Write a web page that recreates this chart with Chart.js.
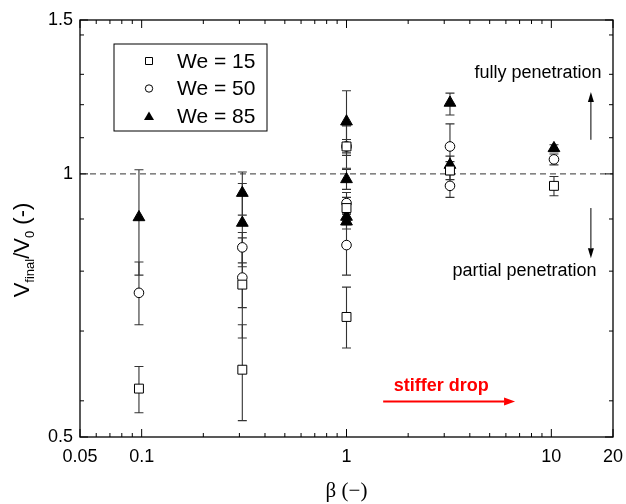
<!DOCTYPE html>
<html>
<head>
<meta charset="UTF-8">
<title>V_final/V_0 vs beta</title>
<script src="https://cdn.jsdelivr.net/npm/chart.js"></script>
<style>
  html, body { margin: 0; padding: 0; background: #fff; }
</style>
</head>
<body>
<canvas id="myChart" width="626" height="504"></canvas>
<script>
  // --- data ---
  // We = 15 (open squares)
  const we15Beta = [0.097, 0.31, 0.31, 1.0, 1.0, 1.0, 3.2, 10.3];
  const we15V    = [0.568, 0.747, 0.597, 1.075, 0.914, 0.686, 1.009, 0.969];
  const we15Lo   = [0.533, 0.649, 0.522, 1.057, 0.890, 0.632, 0.985, 0.944];
  const we15Hi   = [0.602, 0.845, 0.672, 1.095, 0.940, 0.742, 1.033, 0.993];

  // We = 50 (open circles)
  const we50Beta = [0.097, 0.31, 0.31, 1.0, 1.0, 1.0, 3.2, 3.2, 10.3];
  const we50V    = [0.731, 0.824, 0.761, 1.075, 0.926, 0.829, 1.075, 0.969, 1.039];
  const we50Lo   = [0.672, 0.791, 0.703, 1.015, 0.900, 0.766, 1.009, 0.940, 1.024];
  const we50Hi   = [0.793, 0.857, 0.819, 1.135, 0.952, 0.892, 1.141, 0.998, 1.054];

  // We = 85 (filled triangles)
  const we85Beta = [0.097, 0.31, 0.31, 1.0, 1.0, 1.0, 1.0, 3.2, 3.2, 10.3];
  const we85V    = [0.892, 0.951, 0.879, 1.148, 0.986, 0.893, 0.882, 1.206, 1.024, 1.070];
  const we85Lo   = [0.766, 0.897, 0.783, 1.050, 0.960, 0.875, 0.865, 1.168, 1.000, 1.060];
  const we85Hi   = [1.011, 1.005, 0.975, 1.245, 1.012, 0.911, 0.899, 1.237, 1.048, 1.080];

  const legendLabels = ['We = 15', 'We = 50', 'We = 85'];

  // axis ticks
  const xMajor = [0.05, 0.1, 1, 10, 20];
  const xMinor = [0.06, 0.07, 0.08, 0.09, 0.2, 0.3, 0.4, 0.5, 0.6, 0.7, 0.8, 0.9,
                  2, 3, 4, 5, 6, 7, 8, 9];
  const yMajor = [0.5, 1, 1.5];
  const yMinor = [0.55, 0.661, 0.774, 0.888, 1.1, 1.2, 1.3, 1.442];

  function pts(b, v, lo, hi) {
    return b.map((x, i) => ({ x: x, y: v[i], lo: lo[i], hi: hi[i] }));
  }

  const SANS = "'Liberation Sans', Arial, sans-serif";

  // frame, inward ticks, dashed reference line, y title, annotations, legend
  const decor = {
    id: 'decor',
    beforeDatasetsDraw(chart) {
      const ctx = chart.ctx;
      const xs = chart.scales.x, ys = chart.scales.y;
      // dashed line at 1
      const y1 = ys.getPixelForValue(1);
      ctx.save();
      ctx.strokeStyle = '#333';
      ctx.lineWidth = 1;
      ctx.setLineDash([6, 4]);
      ctx.beginPath();
      ctx.moveTo(chart.chartArea.left, y1);
      ctx.lineTo(chart.chartArea.right, y1);
      ctx.stroke();
      ctx.restore();

      // error bars
      ctx.save();
      ctx.strokeStyle = '#333';
      ctx.lineWidth = 1.1;
      chart.data.datasets.forEach(ds => {
        ds.data.forEach(p => {
          const px = xs.getPixelForValue(p.x);
          const pLo = ys.getPixelForValue(p.lo);
          const pHi = ys.getPixelForValue(p.hi);
          ctx.beginPath();
          ctx.moveTo(px, pLo); ctx.lineTo(px, pHi);
          ctx.moveTo(px - 4.5, pLo); ctx.lineTo(px + 4.5, pLo);
          ctx.moveTo(px - 4.5, pHi); ctx.lineTo(px + 4.5, pHi);
          ctx.stroke();
        });
      });
      ctx.restore();
    },
    afterDraw(chart) {
      const ctx = chart.ctx;
      const a = chart.chartArea;
      const xs = chart.scales.x, ys = chart.scales.y;
      ctx.save();
      ctx.strokeStyle = '#000';
      ctx.lineWidth = 1.3;
      ctx.strokeRect(a.left, a.top, a.right - a.left, a.bottom - a.top);

      ctx.lineWidth = 1;
      ctx.beginPath();
      const tickX = (v, len) => {
        const px = xs.getPixelForValue(v);
        ctx.moveTo(px, a.bottom); ctx.lineTo(px, a.bottom - len);
        ctx.moveTo(px, a.top); ctx.lineTo(px, a.top + len);
      };
      const tickY = (v, len) => {
        const py = ys.getPixelForValue(v);
        ctx.moveTo(a.left, py); ctx.lineTo(a.left + len, py);
        ctx.moveTo(a.right, py); ctx.lineTo(a.right - len, py);
      };
      xMajor.forEach(v => tickX(v, 8));
      xMinor.forEach(v => tickX(v, 4));
      yMajor.forEach(v => tickY(v, 8));
      yMinor.forEach(v => tickY(v, 4));
      ctx.stroke();

      // y axis title with subscripts
      ctx.translate(29, 250);
      ctx.rotate(-Math.PI / 2);
      const parts = [
        ['V', 22, 0], ['final', 13, 5], ['/V', 22, 0], ['0', 13, 5], [' (-)', 22, 0]
      ];
      let total = 0;
      parts.forEach(p => { ctx.font = p[1] + 'px ' + SANS; total += ctx.measureText(p[0]).width; });
      let cx = -total / 2;
      ctx.fillStyle = '#000';
      ctx.textBaseline = 'alphabetic';
      ctx.textAlign = 'left';
      parts.forEach(p => {
        ctx.font = p[1] + 'px ' + SANS;
        ctx.fillText(p[0], cx, p[2]);
        cx += ctx.measureText(p[0]).width;
      });
      ctx.setTransform(1, 0, 0, 1, 0, 0);

      // annotations
      const X = v => xs.getPixelForValue(v);
      const Y = v => ys.getPixelForValue(v);
      const arrow = (x0, y0, x1, y1, hl, hw, lw, col) => {
        const ang = Math.atan2(y1 - y0, x1 - x0);
        ctx.strokeStyle = col; ctx.fillStyle = col; ctx.lineWidth = lw;
        ctx.beginPath();
        ctx.moveTo(x0, y0);
        ctx.lineTo(x1 - hl * Math.cos(ang), y1 - hl * Math.sin(ang));
        ctx.stroke();
        ctx.beginPath();
        ctx.moveTo(x1, y1);
        ctx.lineTo(x1 - hl * Math.cos(ang) + hw * Math.sin(ang), y1 - hl * Math.sin(ang) - hw * Math.cos(ang));
        ctx.lineTo(x1 - hl * Math.cos(ang) - hw * Math.sin(ang), y1 - hl * Math.sin(ang) + hw * Math.cos(ang));
        ctx.closePath();
        ctx.fill();
      };
      ctx.textAlign = 'center';
      ctx.textBaseline = 'middle';
      ctx.fillStyle = '#000';
      ctx.font = '18px ' + SANS;
      ctx.fillText('fully penetration', X(8.6), Y(1.305));
      ctx.fillText('partial penetration', X(7.4), Y(0.774));
      arrow(X(15.6), Y(1.094), X(15.6), Y(1.241), 10, 3, 1, '#000');
      arrow(X(15.6), Y(0.914), X(15.6), Y(0.801), 10, 3, 1, '#000');

      ctx.fillStyle = '#ff0000';
      ctx.font = 'bold 18px ' + SANS;
      ctx.fillText('stiffer drop', X(2.9), Y(0.572));
      arrow(X(1.51), Y(0.549), X(6.65), Y(0.549), 11, 4, 2.2, '#ff0000');

      // legend box
      const lx = a.left + 34, ly = a.top + 24, lw = 153, lh = 87;
      ctx.strokeStyle = '#000';
      ctx.lineWidth = 1;
      ctx.strokeRect(lx, ly, lw, lh);
      ctx.textAlign = 'left';
      ctx.fillStyle = '#000';
      ctx.font = '21px ' + SANS;
      chart.data.datasets.forEach((ds, i) => {
        const ry = ly + 17 + i * 27.5;
        const mx = lx + 35;
        ctx.beginPath();
        if (ds.pointStyle === 'rect') {
          ctx.fillStyle = '#fff';
          ctx.rect(mx - 3.5, ry - 3.5, 7, 7);
          ctx.fill(); ctx.stroke();
        } else if (ds.pointStyle === 'circle') {
          ctx.fillStyle = '#fff';
          ctx.arc(mx, ry, 3.7, 0, Math.PI * 2);
          ctx.fill(); ctx.stroke();
        } else {
          ctx.fillStyle = '#000';
          ctx.moveTo(mx, ry - 4.5);
          ctx.lineTo(mx + 5, ry + 4);
          ctx.lineTo(mx - 5, ry + 4);
          ctx.closePath();
          ctx.fill();
        }
        ctx.fillStyle = '#000';
        ctx.fillText(legendLabels[i], lx + 63, ry + 1);
      });
      ctx.restore();
    }
  };

  const ctx = document.getElementById('myChart').getContext('2d');
  new Chart(ctx, {
    type: 'scatter',
    data: {
      datasets: [
        {
          label: legendLabels[0],
          data: pts(we15Beta, we15V, we15Lo, we15Hi),
          pointStyle: 'rect', pointRadius: 6.3,
          borderColor: '#000', backgroundColor: '#fff', borderWidth: 1
        },
        {
          label: legendLabels[1],
          data: pts(we50Beta, we50V, we50Lo, we50Hi),
          pointStyle: 'circle', pointRadius: 4.8,
          borderColor: '#000', backgroundColor: '#fff', borderWidth: 1
        },
        {
          label: legendLabels[2],
          data: pts(we85Beta, we85V, we85Lo, we85Hi),
          pointStyle: 'triangle', pointRadius: 6.8,
          borderColor: '#000', backgroundColor: '#000', borderWidth: 1
        }
      ]
    },
    options: {
      responsive: false,
      animation: false,
      devicePixelRatio: 1,
      layout: { padding: { left: 0, top: 20, right: 13, bottom: 0 } },
      plugins: { legend: { display: false }, tooltip: { enabled: false } },
      scales: {
        x: {
          type: 'logarithmic',
          min: 0.05, max: 20,
          afterBuildTicks: s => { s.ticks = xMajor.map(v => ({ value: v })); },
          afterFit: s => { s.height = 67; s.paddingLeft = 0; s.paddingRight = 0; },
          grid: { display: false, drawTicks: false },
          border: { display: false },
          ticks: {
            autoSkip: false, maxRotation: 0, padding: 9, color: '#000',
            font: { family: SANS, size: 18 },
            callback: v => String(v)
          },
          title: {
            display: true, text: 'β (−)', color: '#000',
            font: { family: "'Liberation Serif', 'Times New Roman', serif", size: 21 },
            padding: { top: 0, bottom: 0 }
          }
        },
        y: {
          type: 'logarithmic',
          min: 0.5, max: 1.5,
          afterBuildTicks: s => { s.ticks = yMajor.map(v => ({ value: v })); },
          afterFit: s => { s.width = 80; s.paddingTop = 0; s.paddingBottom = 0; },
          grid: { display: false, drawTicks: false },
          border: { display: false },
          ticks: {
            autoSkip: false, padding: 7, color: '#000',
            font: { family: SANS, size: 18 },
            callback: v => String(v)
          }
        }
      }
    },
    plugins: [decor]
  });
</script>
</body>
</html>
